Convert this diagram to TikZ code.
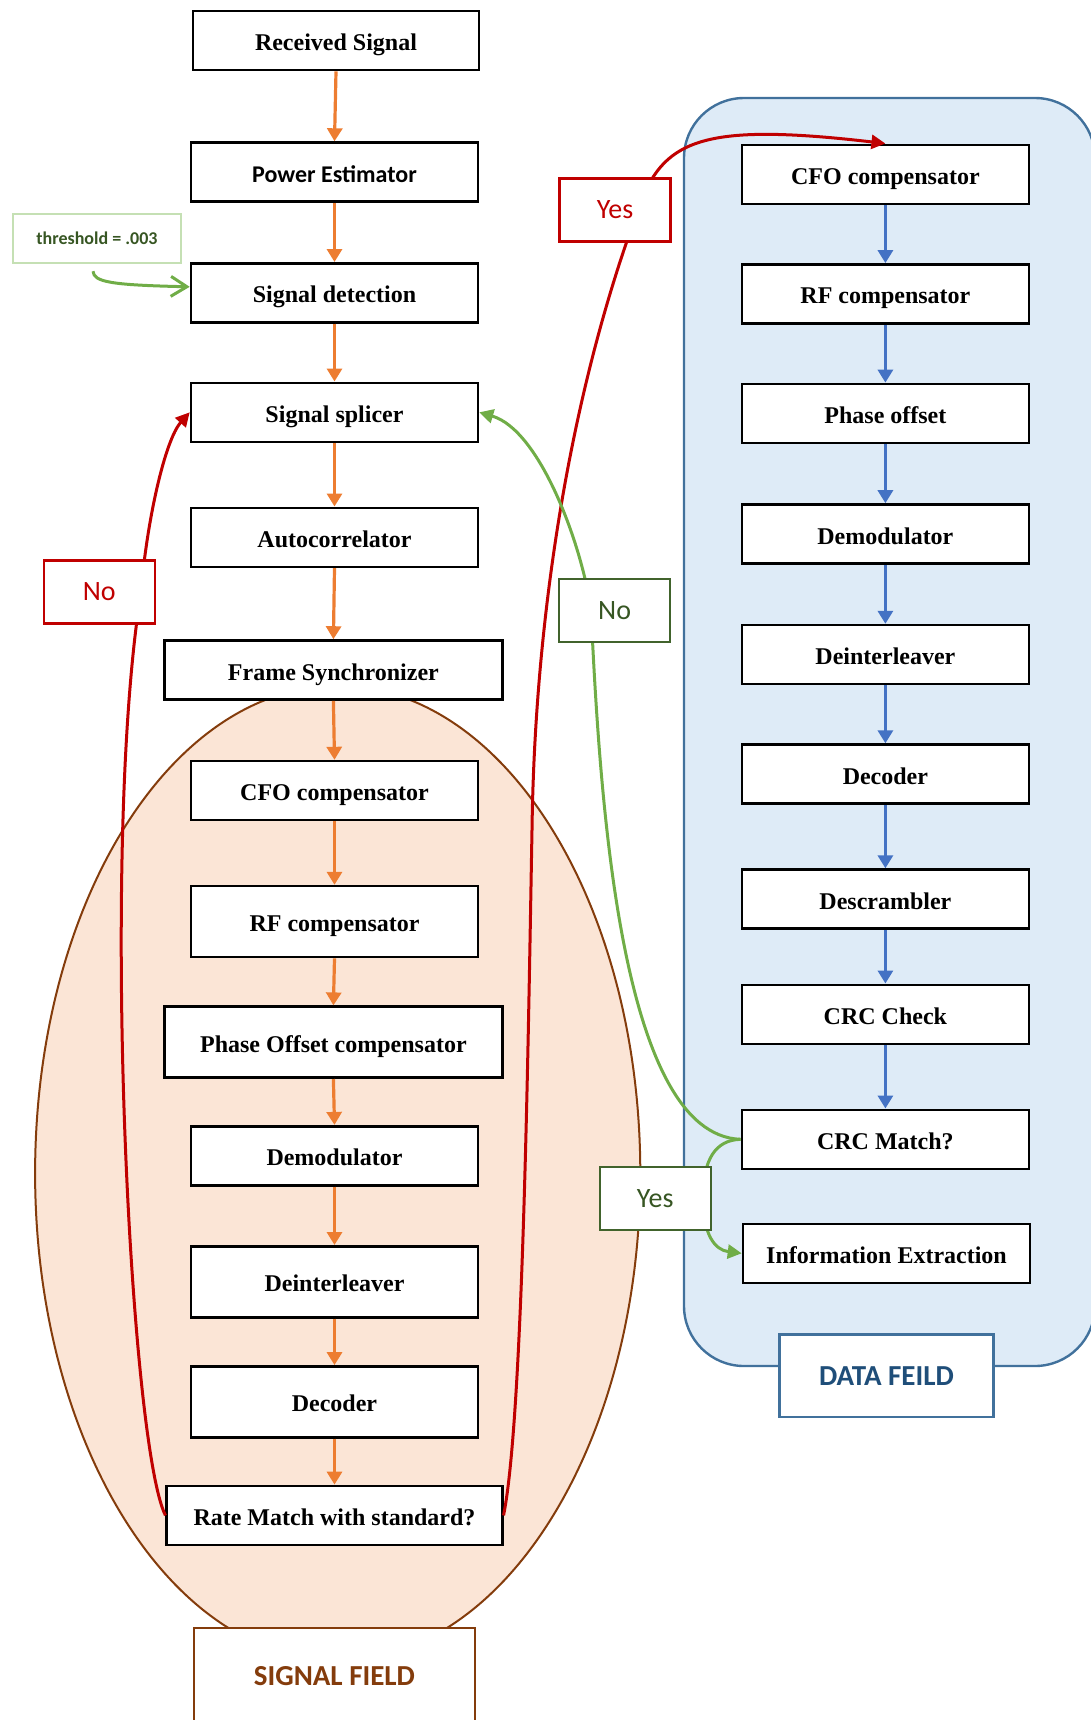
\documentclass[tikz,border=0pt]{standalone}
\usepackage{fontspec}
\setmainfont{Liberation Serif}
\newfontfamily\calibri{Carlito}
\usetikzlibrary{arrows.meta}

\definecolor{flowor}{HTML}{ED7D31}
\definecolor{flowbl}{HTML}{4472C4}
\definecolor{loopred}{HTML}{C00000}
\definecolor{flowgr}{HTML}{70AD47}
\definecolor{lblgr}{HTML}{375623}
\definecolor{lblgrline}{HTML}{41632C}
\definecolor{thrline}{HTML}{C5E0B4}
\definecolor{datafill}{HTML}{DEEBF7}
\definecolor{dataline}{HTML}{41719C}
\definecolor{datatext}{HTML}{1F4E79}
\definecolor{sigfill}{HTML}{FBE5D6}
\definecolor{sigline}{HTML}{843C0C}

\begin{document}
\begin{tikzpicture}[x=0.5pt, y=-0.5pt,
  blk/.style={draw=black, line width=1.3pt, fill=white, minimum width=143.5pt, minimum height=29.5pt, inner sep=0pt, text height=10pt, text depth=0pt, font=\bfseries\fontsize{12}{14}\selectfont},
  blkwide/.style={blk, minimum width=169pt},
  blktall/.style={minimum height=35.5pt},
  lbl/.style={line width=1.2pt, fill=white, minimum width=55.5pt, minimum height=31.5pt, inner sep=0pt, font=\calibri\fontsize{14}{16}\selectfont},
  lblred/.style={lbl, draw=loopred, text=loopred},
  lblgreen/.style={lbl, draw=lblgrline, text=lblgr},
  field/.style={line width=1.2pt, fill=white, inner sep=0pt, font=\calibri\bfseries\fontsize{14.5}{16}\selectfont},
  flowL/.style={draw=flowor, line width=1.6pt, -{Triangle[length=6.5pt,width=7.5pt]}},
  flowR/.style={draw=flowbl, line width=1.6pt, -{Triangle[length=6.5pt,width=7.5pt]}},
  loopR/.style={draw=loopred, line width=1.5pt, -{Triangle[length=7pt,width=7pt]}},
  loopG/.style={draw=flowgr, line width=1.5pt, -{Triangle[length=7pt,width=7pt]}}]
\useasboundingbox (0,0) rectangle (1091,1720);
\clip (0,0) rectangle (1091,1720);

%Regions
\draw[fill=datafill, draw=dataline, line width=1.2pt, rounded corners=30pt] (684,98) rectangle (1095,1366);
\draw[fill=sigfill, draw=sigline, line width=1pt] (337.7,1173.3) ellipse [x radius=302.6, y radius=487.4];

%Signal field chain
\node[blk, minimum width=143pt] (rx) at (336,40.6) {Received Signal};
\node[blk] (pwr) at (334.5,172.1) {\calibri\bfseries Power Estimator};
\node[blk] (det) at (334.5,292.8) {Signal detection};
\node[blk] (spl) at (334.5,412.3) {Signal splicer};
\node[blk] (acor) at (334.5,537.3) {Autocorrelator};
\node[blkwide] (fsync) at (333.4,670) {Frame Synchronizer};
\node[blk] (cfoS) at (334.5,790.6) {CFO compensator};
\node[blk, blktall] (rfS) at (334.5,921.6) {RF compensator};
\node[blkwide, blktall] (phS) at (333.4,1042.2) {Phase Offset compensator};
\node[blk] (demS) at (334.5,1155.7) {Demodulator};
\node[blk, blktall] (deiS) at (334.5,1281.8) {Deinterleaver};
\node[blk, blktall] (decS) at (334.5,1401.9) {Decoder};
\node[blk, minimum width=167.75pt] (rate) at (334.5,1515.4) {Rate Match with standard?};

%Data field chain
\node[blk] (cfoD) at (885.4,174.3) {CFO compensator};
\node[blk] (rfD) at (885.4,293.9) {RF compensator};
\node[blk] (phD) at (885.4,413.4) {Phase offset};
\node[blk] (demD) at (885.4,534) {Demodulator};
\node[blk] (deiD) at (885.4,654.6) {Deinterleaver};
\node[blk] (decD) at (885.4,774.1) {Decoder};
\node[blk] (dscr) at (885.4,899.1) {Descrambler};
\node[blk] (crc) at (885.4,1014.3) {CRC Check};
\node[blk] (crcM) at (885.4,1139.3) {CRC Match?};
\node[blk] (info) at (886.5,1253.3) {Information Extraction};

\draw[flowL] (rx.south) -- (pwr.north);
\draw[flowL] (pwr.south) -- (det.north);
\draw[flowL] (det.south) -- (spl.north);
\draw[flowL] (spl.south) -- (acor.north);
\draw[flowL] (acor.south) -- (fsync.north);
\draw[flowL] (fsync.south) -- (cfoS.north);
\draw[flowL] (cfoS.south) -- (rfS.north);
\draw[flowL] (rfS.south) -- (phS.north);
\draw[flowL] (phS.south) -- (demS.north);
\draw[flowL] (demS.south) -- (deiS.north);
\draw[flowL] (deiS.south) -- (decS.north);
\draw[flowL] (decS.south) -- (rate.north);

\draw[flowR] (cfoD.south) -- (rfD.north);
\draw[flowR] (rfD.south) -- (phD.north);
\draw[flowR] (phD.south) -- (demD.north);
\draw[flowR] (demD.south) -- (deiD.north);
\draw[flowR] (deiD.south) -- (decD.north);
\draw[flowR] (decD.south) -- (dscr.north);
\draw[flowR] (dscr.south) -- (crc.north);
\draw[flowR] (crc.south) -- (crcM.north);

%Threshold
\node[draw=thrline, line width=1pt, fill=white, minimum width=83.85pt, minimum height=24.7pt, inner sep=0pt, text=lblgr, font=\calibri\bfseries\fontsize{9}{11}\selectfont] (thr) at (97,238.5) {threshold = .003};
\draw[draw=flowgr, line width=1.5pt, -{Straight Barb[length=8pt,width=10pt]}] ([shift={(-4,7)}]thr.south) .. controls (94,282) and (110,285) .. ([shift={(0,-6)}]det.west);

%Loops
\coordinate (rn1) at (141,592);
\coordinate (ry1) at (532,830);
\coordinate (ry2) at (638,210);
\coordinate (gn1) at (591,610);
\coordinate (gy1) at (703,1198);
\draw[loopR] (rate.west) .. controls (130,1445) and (100,850) .. (rn1) .. controls (147,520) and (165,440) .. (spl.west);
\draw[loopR] (rate.east) .. controls (523,1419) and (528,1050) .. (ry1) .. controls (535,600) and (575,380) .. (ry2) .. controls (662,140) and (700,122) .. (cfoD.north);
\draw[loopG] (crcM.west) .. controls (620,1135) and (600,800) .. (gn1) .. controls (582,545) and (540,430) .. (spl.east);
\draw[loopG] (crcM.west) .. controls (715,1140) and (703,1160) .. (gy1) .. controls (703,1235) and (715,1250) .. (info.west);

%Text
\node[lblred] (yesR) at (615.1,210) {Yes};
\node[lblred] (noR) at (99.3,592.1) {No};
\node[lblgreen] (noG) at (614.6,610.2) {No};
\node[lblgreen] (yesG) at (655.2,1198.5) {Yes};
\node[field, draw=dataline, text=datatext, minimum width=106.9pt, minimum height=41.2pt] (dataLbl) at (886.5,1375.6) {DATA FEILD};
\node[field, draw=sigline, text=sigline, minimum width=140.4pt, minimum height=47.5pt] (sigLbl) at (334.4,1675.6) {SIGNAL FIELD};
\end{tikzpicture}
\end{document}
